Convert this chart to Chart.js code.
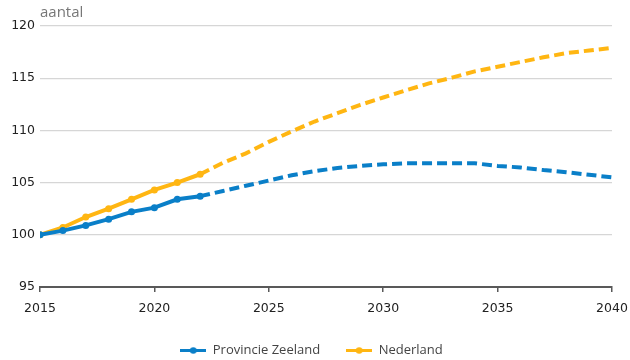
<!DOCTYPE html>
<html lang="nl">
<head>
<meta charset="utf-8">
<title>Bevolkingsprognose Zeeland en Nederland</title>
<script src="https://cdn.jsdelivr.net/npm/chart.js@4.4.1/dist/chart.umd.min.js"></script>
<style>
  html, body { margin: 0; padding: 0; background: #fff; }
  #wrap { width: 630px; height: 360px; position: relative; }
</style>
</head>
<body>
<div id="wrap"><canvas id="grafiek"></canvas></div>
<script>
// Index (2015 = 100), waarnemingen t/m 2022, daarna prognose
const jaren = [2015, 2016, 2017, 2018, 2019, 2020, 2021, 2022, 2023, 2024, 2025, 2026, 2027,
               2028, 2029, 2030, 2031, 2032, 2033, 2034, 2035, 2036, 2037, 2038, 2039, 2040];
const zeeland = [100, 100.4, 100.9, 101.5, 102.2, 102.6, 103.4, 103.7, 104.2, 104.7, 105.2, 105.7, 106.1,
                 106.4, 106.6, 106.75, 106.85, 106.85, 106.85, 106.85, 106.6, 106.45, 106.2, 106.0, 105.75, 105.5];
const nederland = [100, 100.7, 101.7, 102.5, 103.4, 104.3, 105.0, 105.8, 106.9, 107.8, 108.9, 109.9, 110.85,
                   111.65, 112.45, 113.15, 113.85, 114.5, 115.05, 115.65, 116.1, 116.55, 117.0, 117.4, 117.65, 117.9];
const laatsteWaarneming = 2022;
const yTicks = [95, 100, 105, 110, 115, 120];
const xTicks = [2015, 2020, 2025, 2030, 2035, 2040];
const reeksNamen = ['Provincie Zeeland', 'Nederland'];

const BLAUW = '#0a7fc8';
const GEEL = '#ffb612';
const laatsteIndex = jaren.indexOf(laatsteWaarneming);

// legend marker: short line with a dot in the middle
function legendMarker(kleur) {
  const c = document.createElement('canvas');
  c.width = 26; c.height = 9;
  const g = c.getContext('2d');
  g.strokeStyle = kleur; g.lineWidth = 3;
  g.beginPath(); g.moveTo(0, 4.5); g.lineTo(26, 4.5); g.stroke();
  g.fillStyle = kleur;
  g.beginPath(); g.arc(13, 4.5, 3.3, 0, Math.PI * 2); g.fill();
  return c;
}

function reeks(naam, waarden, kleur) {
  return {
    label: naam,
    data: jaren.map((j, i) => ({ x: j, y: waarden[i] })),
    borderColor: kleur,
    backgroundColor: kleur,
    borderWidth: 4,
    borderCapStyle: 'butt',
    tension: 0,
    pointRadius: jaren.map((j, i) => i <= laatsteIndex ? 3.5 : 0),
    pointHoverRadius: 0,
    pointBorderWidth: 0,
    segment: {
      borderDash: ctx => ctx.p0DataIndex >= laatsteIndex ? [10, 5] : undefined
    },
    marker: legendMarker(kleur)
  };
}

// unit label above the value axis
const eenheidLabel = {
  id: 'eenheidLabel',
  afterDraw(chart) {
    const { ctx, chartArea } = chart;
    ctx.save();
    ctx.font = '15px "Open Sans"';
    ctx.fillStyle = '#777';
    ctx.textAlign = 'left';
    ctx.textBaseline = 'alphabetic';
    ctx.fillText('aantal', chartArea.left, 17);
    ctx.restore();
  }
};

new Chart(document.getElementById('grafiek'), {
  type: 'line',
  data: {
    datasets: [
      reeks(reeksNamen[0], zeeland, BLAUW),
      reeks(reeksNamen[1], nederland, GEEL)
    ]
  },
  options: {
    responsive: true,
    maintainAspectRatio: false,
    animation: false,
    events: [],
    layout: { padding: { top: 26, right: 18, left: 11, bottom: 0 } },
    scales: {
      x: {
        type: 'linear',
        min: jaren[0],
        max: jaren[jaren.length - 1],
        afterBuildTicks: s => { s.ticks = xTicks.map(v => ({ value: v })); },
        afterFit: s => { s.height = 31; s.paddingLeft = 0; s.paddingRight = 0; },
        border: { display: true, color: '#595959', width: 2 },
        grid: { drawOnChartArea: false, drawTicks: true, tickLength: 5, color: '#595959', lineWidth: 1.5 },
        ticks: {
          padding: 9,
          color: '#222',
          font: { family: '"DejaVu Sans"', size: 12.5 },
          callback: v => String(v),
          maxRotation: 0
        }
      },
      y: {
        min: yTicks[0],
        max: yTicks[yTicks.length - 1],
        afterBuildTicks: s => { s.ticks = yTicks.map(v => ({ value: v })); },
        afterFit: s => { s.width = 29; },
        border: { display: false },
        grid: { color: '#d6d6d6', lineWidth: 1.2, drawTicks: false },
        ticks: {
          padding: 5,
          color: '#222',
          font: { family: '"DejaVu Sans"', size: 12.5 }
        }
      }
    },
    plugins: {
      tooltip: { enabled: false },
      legend: {
        position: 'bottom',
        maxHeight: 42,
        labels: {
          usePointStyle: true,
          pointStyleWidth: 26,
          padding: 26,
          color: '#444',
          font: { family: '"Open Sans"', size: 13 },
          generateLabels: chart => chart.data.datasets.map((d, i) => ({
            text: d.label,
            pointStyle: d.marker,
            fillStyle: d.borderColor,
            strokeStyle: d.borderColor,
            lineWidth: 0,
            hidden: false,
            datasetIndex: i,
            fontColor: '#444'
          }))
        }
      }
    }
  },
  plugins: [eenheidLabel]
});
</script>
</body>
</html>
